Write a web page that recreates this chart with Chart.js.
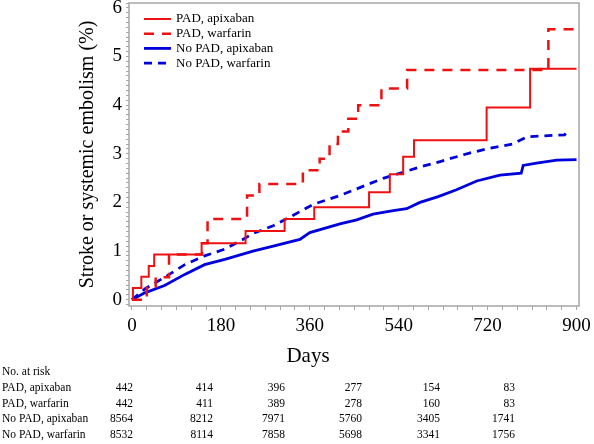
<!DOCTYPE html>
<html>
<head>
<meta charset="utf-8">
<script src="https://cdn.jsdelivr.net/npm/chart.js@4"></script>
<style>
  html, body { margin: 0; padding: 0; background: #fff; }
  #wrap { width: 594px; height: 444px; }
</style>
</head>
<body>
<div id="wrap"><canvas id="km" width="594" height="444"></canvas></div>
<script>
// KM curves (days -> cumulative %)
const padApixDays = [0, 2, 19, 34, 45, 141, 230, 309, 369, 480, 522, 549, 571, 718, 806, 900];
const padApixPct  = [0, 0.24, 0.47, 0.69, 0.93, 1.16, 1.41, 1.66, 1.90, 2.21, 2.58, 2.94, 3.28, 3.95, 4.75, 4.75];

const padWarfDays = [0, 30, 48, 75, 142, 153, 233, 258, 346, 380, 400, 417, 438, 458, 505, 557, 843, 900];
const padWarfPct  = [0, 0.24, 0.46, 0.93, 1.16, 1.66, 2.14, 2.38, 2.66, 2.90, 3.20, 3.46, 3.72, 4.00, 4.34, 4.72, 5.56, 5.56];

const noPadApixDays = [0, 26, 66, 107, 147, 188, 245, 286, 340, 360, 421, 455, 488, 529, 556, 583, 620, 657, 698, 745, 788, 792, 819, 860, 900];
const noPadApixPct  = [0, 0.14, 0.29, 0.52, 0.72, 0.83, 1.00, 1.10, 1.24, 1.38, 1.56, 1.64, 1.76, 1.83, 1.87, 2.00, 2.12, 2.26, 2.44, 2.56, 2.60, 2.76, 2.81, 2.87, 2.88];

const noPadWarfDays = [0, 26, 66, 107, 147, 188, 218, 245, 286, 320, 367, 421, 475, 510, 549, 580, 624, 678, 718, 771, 800, 876, 880];
const noPadWarfPct  = [0, 0.22, 0.46, 0.72, 0.90, 1.04, 1.20, 1.36, 1.52, 1.70, 1.96, 2.14, 2.36, 2.50, 2.62, 2.72, 2.84, 3.00, 3.10, 3.20, 3.35, 3.39, 3.45];

const seriesLabels = ["PAD, apixaban", "PAD, warfarin", "No PAD, apixaban", "No PAD, warfarin"];

// number at risk table
const riskHeader = "No. at risk";
const riskPadApix   = [442, 414, 396, 277, 154, 83];
const riskPadWarf   = [442, 411, 389, 278, 160, 83];
const riskNoPadApix = [8564, 8212, 7971, 5760, 3405, 1741];
const riskNoPadWarf = [8532, 8114, 7858, 5698, 3341, 1756];

const xTitle = "Days";
const yTitle = "Stroke or systemic embolism (%)";

const SERIF = "'Liberation Serif', 'Times New Roman', serif";
const RED = "#ee1111";
const BLUE = "#0000dd";

const pts = (xs, ys) => xs.map((x, i) => ({ x: x, y: ys[i] }));

// legend + frame + at-risk table, drawn straight on the canvas
const extras = {
  id: "extras",
  afterDraw(chart) {
    const { ctx, chartArea: a } = chart;
    ctx.save();
    ctx.strokeStyle = "#a6a6a6";
    ctx.lineWidth = 1.5;
    ctx.strokeRect(a.left, a.top, a.right - a.left, a.bottom - a.top);

    // legend in the top-left corner of the plot
    ctx.font = "13px " + SERIF;
    ctx.textBaseline = "middle";
    ctx.textAlign = "left";
    chart.data.datasets.forEach((ds, i) => {
      const y = 19 + i * 14.7;
      ctx.beginPath();
      ctx.strokeStyle = ds.borderColor;
      ctx.lineWidth = ds.borderWidth;
      ctx.setLineDash(ds.borderDash || []);
      ctx.moveTo(144, y);
      ctx.lineTo(171, y);
      ctx.stroke();
      ctx.setLineDash([]);
      ctx.fillStyle = "#000";
      ctx.fillText(ds.label, 176, y);
    });

    // x title
    ctx.fillStyle = "#000";
    ctx.font = "21px " + SERIF;
    ctx.textAlign = "center";
    ctx.fillText(xTitle, 308, 356);

    // number at risk
    ctx.font = "11.5px " + SERIF;
    ctx.textAlign = "left";
    ctx.fillText(riskHeader, 2, 372);
    const rows = [riskPadApix, riskPadWarf, riskNoPadApix, riskNoPadWarf];
    const colRight = [133, 213, 285, 362, 440, 515];
    rows.forEach((row, r) => {
      const y = 388 + r * 15.7;
      ctx.textAlign = "left";
      ctx.fillText(seriesLabels[r], 2, y);
      ctx.textAlign = "right";
      row.forEach((n, c) => ctx.fillText(String(n), colRight[c], y));
    });
    ctx.restore();
  }
};

new Chart(document.getElementById("km"), {
  type: "line",
  data: {
    datasets: [
      { label: seriesLabels[0], data: pts(padApixDays, padApixPct), borderColor: RED, borderWidth: 2, stepped: true },
      { label: seriesLabels[1], data: pts(padWarfDays, padWarfPct), borderColor: RED, borderWidth: 2.5, borderDash: [10, 8], stepped: true },
      { label: seriesLabels[2], data: pts(noPadApixDays, noPadApixPct), borderColor: BLUE, borderWidth: 2.8 },
      { label: seriesLabels[3], data: pts(noPadWarfDays, noPadWarfPct), borderColor: BLUE, borderWidth: 2.8, borderDash: [8, 6] },
    ],
  },
  options: {
    responsive: false,
    animation: false,
    devicePixelRatio: 1,
    elements: { point: { radius: 0 }, line: { tension: 0, borderCapStyle: "butt" } },
    layout: { padding: { top: 3, right: 15, left: 0, bottom: 0 } },
    plugins: { legend: { display: false }, tooltip: { enabled: false } },
    scales: {
      x: {
        type: "linear",
        min: -6,
        max: 905,
        afterFit: s => { s.height = 138; s.paddingLeft = 0; s.paddingRight = 0; },
        grid: { drawOnChartArea: false, drawTicks: true, tickLength: 4, tickColor: "#a6a6a6" },
        border: { display: false },
        ticks: {
          stepSize: 30,
          autoSkip: false,
          includeBounds: false,
          maxRotation: 0,
          padding: 5,
          color: "#000",
          font: { family: SERIF, size: 19 },
          callback: v => (v % 180 === 0 ? String(v) : ""),
        },
      },
      y: {
        min: -0.13,
        max: 6.1,
        afterFit: s => { s.width = 129; s.paddingTop = 0; s.paddingBottom = 0; },
        grid: { drawOnChartArea: false, drawTicks: true, tickLength: 3, tickColor: "#a6a6a6" },
        border: { display: false },
        ticks: {
          stepSize: 0.1,
          autoSkip: false,
          includeBounds: false,
          padding: 4,
          color: "#000",
          font: { family: SERIF, size: 19 },
          callback: v => (Math.abs(v - Math.round(v)) < 1e-6 ? String(Math.round(v)) : ""),
        },
        title: {
          display: true,
          text: yTitle,
          color: "#000",
          font: { family: SERIF, size: 20 },
          padding: { top: 76 },
        },
      },
    },
  },
  plugins: [extras],
});
</script>
</body>
</html>
